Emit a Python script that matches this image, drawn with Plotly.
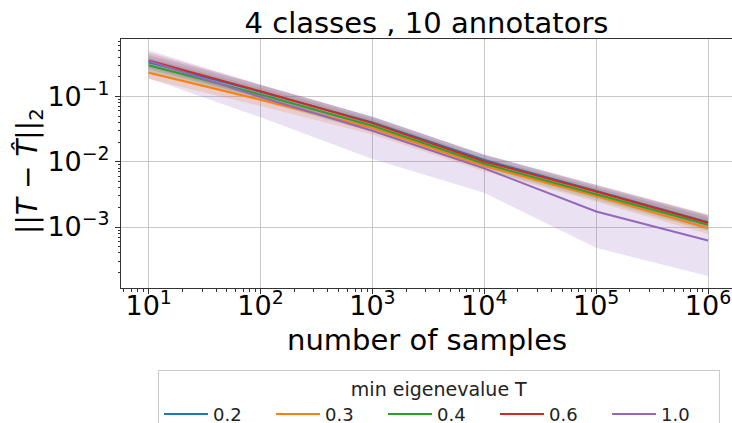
import plotly.graph_objects as go

# ---------------- data ----------------
samples = [10, 100, 1000, 10000, 100000, 1000000]
series_names = ["0.2", "0.3", "0.4", "0.6", "1.0"]

mean_02 = [0.332, 0.118, 0.0400, 0.0106, 0.00355, 0.00118]
up_02 = [0.43, 0.150, 0.049, 0.0129, 0.0044, 0.00152]
lo_02 = [0.26, 0.094, 0.032, 0.0087, 0.0029, 0.00094]

mean_03 = [0.231, 0.089, 0.0328, 0.0086, 0.00297, 0.00096]
up_03 = [0.30, 0.112, 0.041, 0.0105, 0.0037, 0.00122]
lo_03 = [0.185, 0.071, 0.026, 0.0071, 0.00243, 0.00078]

mean_04 = [0.299, 0.107, 0.0356, 0.0093, 0.00318, 0.00108]
up_04 = [0.39, 0.136, 0.045, 0.0115, 0.0040, 0.00140]
lo_04 = [0.235, 0.085, 0.0285, 0.0076, 0.0026, 0.00087]

mean_06 = [0.356, 0.120, 0.0390, 0.0101, 0.00350, 0.00116]
up_06 = [0.47, 0.152, 0.049, 0.0127, 0.0044, 0.00155]
lo_06 = [0.28, 0.095, 0.031, 0.0082, 0.0028, 0.00092]

mean_10 = [0.348, 0.098, 0.0298, 0.0079, 0.00173, 0.00062]
up_10 = [0.51, 0.150, 0.049, 0.0128, 0.0042, 0.00150]
lo_10 = [0.19, 0.048, 0.0110, 0.00335, 0.00048, 0.000177]

x_tickvals = [10, 100, 1000, 10000, 100000, 1000000]
x_ticktext = ["10<sup>1</sup>", "10<sup>2</sup>", "10<sup>3</sup>",
              "10<sup>4</sup>", "10<sup>5</sup>", "10<sup>6</sup>"]
y_tickvals = [0.1, 0.01, 0.001]
y_ticktext = ["10<sup>−1</sup>", "10<sup>−2</sup>", "10<sup>−3</sup>"]

colors = ["#1f77b4", "#ff7f0e", "#2ca02c", "#d62728", "#9467bd"]
fills = ["rgba(31,119,180,0.2)", "rgba(255,127,14,0.2)", "rgba(44,160,44,0.2)",
         "rgba(214,39,40,0.2)", "rgba(148,103,189,0.2)"]

means = [mean_02, mean_03, mean_04, mean_06, mean_10]
ups = [up_02, up_03, up_04, up_06, up_10]
los = [lo_02, lo_03, lo_04, lo_06, lo_10]

FONT = "DejaVu Sans"

fig = go.Figure()
for i in range(len(series_names)):
    fig.add_trace(go.Scatter(x=samples, y=los[i], mode="lines",
                             line=dict(width=0, color=fills[i]),
                             showlegend=False, hoverinfo="skip"))
    fig.add_trace(go.Scatter(x=samples, y=ups[i], mode="lines",
                             line=dict(width=0, color=fills[i]),
                             fill="tonexty", fillcolor=fills[i],
                             showlegend=False, hoverinfo="skip"))
for i in range(len(series_names)):
    fig.add_trace(go.Scatter(x=samples, y=means[i], mode="lines",
                             name=series_names[i],
                             line=dict(width=2, color=colors[i])))

minor_x = [m * 10 ** k for k in range(0, 7) for m in range(2, 10)]
minor_y = [m * 10 ** k for k in range(-4, 0) for m in range(2, 10)]

fig.update_layout(
    width=732, height=423,
    margin=dict(l=121, r=0, t=39, b=135, autoexpand=False),
    paper_bgcolor="white", plot_bgcolor="white",
    font=dict(family=FONT, color="black"),
    title=dict(text="4 classes , 10 annotators", x=0.5, xref="paper",
               xanchor="center", y=1 - 23 / 423, yanchor="middle",
               font=dict(size=29, family=FONT, color="black")),
    xaxis=dict(type="log", range=[0.7525, 6.2145],
               tickmode="array", tickvals=x_tickvals, ticktext=x_ticktext,
               tickfont=dict(size=27, family=FONT, color="black"),
               ticks="outside", ticklen=5, tickcolor="#333",
               ticklabelstandoff=-11,
               showline=True, linecolor="#333", linewidth=1, mirror=True,
               showgrid=True, gridcolor="#c8c8c8", gridwidth=1,
               zeroline=False,
               minor=dict(tickmode="array", tickvals=minor_x, ticks="outside",
                          ticklen=2.5, tickcolor="#333", showgrid=False)),
    yaxis=dict(type="log", range=[-3.934, -0.121],
               tickmode="array", tickvals=y_tickvals, ticktext=y_ticktext,
               tickfont=dict(size=27, family=FONT, color="black"),
               ticks="outside", ticklen=5, tickcolor="#333",
               showline=True, linecolor="#333", linewidth=1, mirror=False,
               showgrid=True, gridcolor="#c8c8c8", gridwidth=1,
               zeroline=False,
               minor=dict(tickmode="array", tickvals=minor_y, ticks="outside",
                          ticklen=2.5, tickcolor="#333", showgrid=False)),
    legend=dict(orientation="h", x=(158 - 121) / 611, xanchor="left",
                y=(288 - 370) / 249, yanchor="top", traceorder="normal",
                bordercolor="#cccccc", borderwidth=1, bgcolor="white",
                font=dict(size=18, family=FONT, color="#222"),
                title=dict(text="min eigenevalue T", side="top center",
                           font=dict(size=19, family=FONT, color="#222")),
                entrywidth=53, itemwidth=44),
    annotations=[
        dict(text="number of samples", xref="paper", yref="paper",
             x=0.5, y=(288 - 340) / 249, xanchor="center", yanchor="middle",
             showarrow=False, font=dict(size=29, family=FONT, color="black")),
        dict(text="||<i>T</i> − <i>T̂</i>||<sub>2</sub>", xref="paper", yref="paper",
             x=(30 - 121) / 611, y=(288 - 171) / 249, xanchor="center",
             yanchor="middle", textangle=-90, showarrow=False,
             font=dict(size=28, family=FONT, color="black")),
    ],
)

fig.write_html("out.html", config={"displayModeBar": False},
               post_script="document.body.style.margin='0';document.body.style.overflow='hidden';")
